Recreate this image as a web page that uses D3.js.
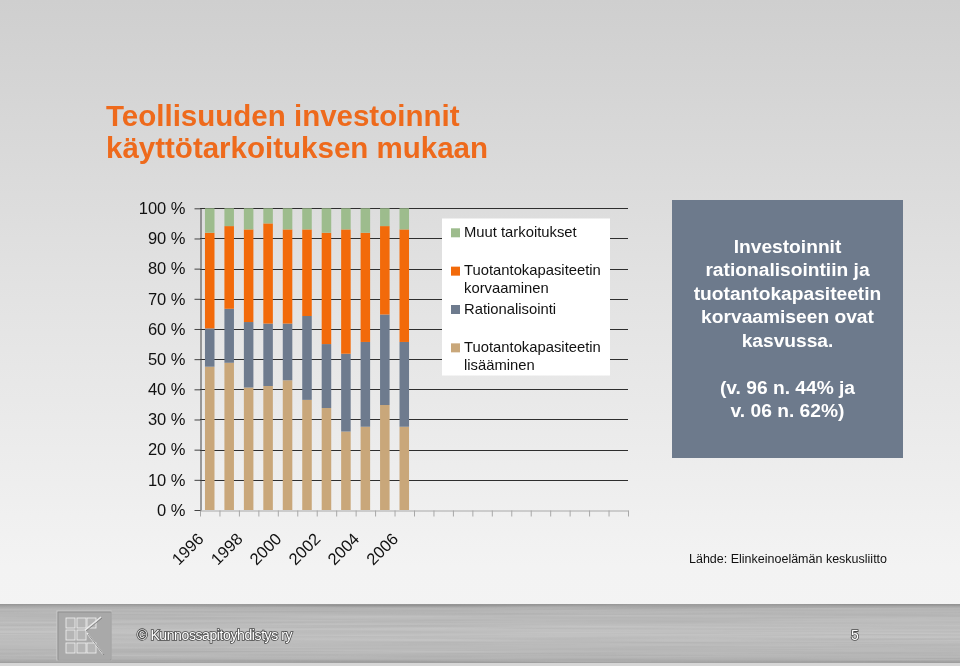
<!DOCTYPE html>
<html>
<head>
<meta charset="utf-8">
<script src="https://cdn.jsdelivr.net/npm/d3@7"></script>
<style>
html,body{margin:0;padding:0;overflow:hidden;background:#e8e8e8}
svg{display:block;font-family:"Liberation Sans",Arial,Helvetica,sans-serif}
</style>
</head>
<body>
<svg id="chart" width="960" height="666"></svg>
<script>
// ---------------- data ----------------
const years = [1996, 1997, 1998, 1999, 2000, 2001, 2002, 2003, 2004, 2005, 2006];
const slotCount = 22; // the category axis keeps room for 22 slots, only 11 are filled
const lisaaminen      = [47.5, 48.8, 40.6, 41.1, 43.0, 36.5, 33.8, 26.0, 27.6, 34.8, 27.6];
const rationalisointi = [12.7, 17.9, 21.7, 20.7, 18.8, 27.8, 21.2, 25.8, 28.1, 30.0, 28.1];
const korvaaminen     = [31.7, 27.4, 30.7, 33.2, 31.2, 28.7, 36.9, 41.2, 36.2, 29.3, 37.3];
const muut            = [ 8.1,  5.9,  7.0,  5.0,  7.0,  7.0,  8.1,  7.0,  8.1,  5.9,  7.0];
const seriesKeys   = ["lisaaminen", "rationalisointi", "korvaaminen", "muut"];
const seriesColors = ["#C9A77A", "#6E7B8E", "#F26A0A", "#9DBC8D"];
const yTicks = [0, 10, 20, 30, 40, 50, 60, 70, 80, 90, 100];
const xLabelYears = [1996, 1998, 2000, 2002, 2004, 2006];
const legendEntries = [
  {key: "muut", lines: ["Muut tarkoitukset"]},
  {key: "korvaaminen", lines: ["Tuotantokapasiteetin", "korvaaminen"]},
  {key: "rationalisointi", lines: ["Rationalisointi"]},
  {key: "lisaaminen", lines: ["Tuotantokapasiteetin", "lisääminen"]}
];
const titleLines = ["Teollisuuden investoinnit", "käyttötarkoituksen mukaan"];
const boxLines = ["Investoinnit", "rationalisointiin ja", "tuotantokapasiteetin",
                  "korvaamiseen ovat", "kasvussa.", "", "(v. 96 n. 44% ja", "v. 06 n. 62%)"];
const sourceText = "Lähde: Elinkeinoelämän keskusliitto";
const footerText = "© Kunnossapitoyhdistys ry";
const pageNumber = "5";

// ---------------- build ----------------
const rows = years.map((yr, i) => ({
  idx: i, year: yr,
  lisaaminen: lisaaminen[i], rationalisointi: rationalisointi[i],
  korvaaminen: korvaaminen[i], muut: muut[i]
}));
const colorOf = d3.scaleOrdinal().domain(seriesKeys).range(seriesColors);

const svg = d3.select("#chart");
const defs = svg.append("defs");

// background gradient
const bg = defs.append("linearGradient").attr("id", "bg").attr("x1", 0).attr("y1", 0).attr("x2", 0).attr("y2", 1);
bg.append("stop").attr("offset", "0%").attr("stop-color", "#cfcfcf");
bg.append("stop").attr("offset", "45%").attr("stop-color", "#e3e3e3");
bg.append("stop").attr("offset", "85%").attr("stop-color", "#f3f3f3");
bg.append("stop").attr("offset", "100%").attr("stop-color", "#f4f4f4");
svg.append("rect").attr("width", 960).attr("height", 666).attr("fill", "url(#bg)");

// footer metal band
const fg = defs.append("linearGradient").attr("id", "fg").attr("x1", 0).attr("y1", 0).attr("x2", 0).attr("y2", 1);
fg.append("stop").attr("offset", "0%").attr("stop-color", "#7d7d7d");
fg.append("stop").attr("offset", "8%").attr("stop-color", "#a6a6a6");
fg.append("stop").attr("offset", "50%").attr("stop-color", "#b4b4b4");
fg.append("stop").attr("offset", "92%").attr("stop-color", "#a6a6a6");
fg.append("stop").attr("offset", "100%").attr("stop-color", "#8c8c8c");
const flt = defs.append("filter").attr("id", "brush").attr("x", 0).attr("y", 0).attr("width", 1).attr("height", 1);
flt.append("feTurbulence").attr("type", "fractalNoise").attr("baseFrequency", "0.004 0.45")
   .attr("numOctaves", 2).attr("seed", 7).attr("result", "n");
flt.append("feColorMatrix").attr("type", "matrix")
   .attr("values", "0.33 0.33 0.33 0 0  0.33 0.33 0.33 0 0  0.33 0.33 0.33 0 0  0 0 0 0 1");

svg.append("rect").attr("x", 0).attr("y", 604).attr("width", 960).attr("height", 59).attr("fill", "url(#fg)");
svg.append("rect").attr("x", 0).attr("y", 604).attr("width", 960).attr("height", 59)
   .attr("filter", "url(#brush)").attr("opacity", 0.35).style("mix-blend-mode", "overlay");
svg.append("rect").attr("x", 0).attr("y", 663).attr("width", 960).attr("height", 3).attr("fill", "#d6d6d6");

// logo
const logo = svg.append("g").attr("transform", "translate(57,611)");
logo.append("rect").attr("width", 54).attr("height", 49).attr("fill", "#a9a9a9")
    .attr("stroke", "#c9c9c9").attr("stroke-width", 1.2);
logo.append("rect").attr("x", 1).attr("y", 1).attr("width", 53).attr("height", 48).attr("fill", "none")
    .attr("stroke", "#8a8a8a").attr("stroke-width", 0.8);
const cellsX = [9, 20, 30], cellsY = [7, 19, 32];
cellsY.forEach((cy, r) => cellsX.forEach((cx, c) => {
  if (r === 1 && c === 2) return;
  logo.append("rect").attr("x", cx).attr("y", cy).attr("width", 9).attr("height", 10)
      .attr("fill", "#b5b5b5").attr("stroke", "#ececec").attr("stroke-width", 0.9);
}));
logo.append("path").attr("d", "M28,19 L44,6 M30,22 L46,43").attr("stroke", "#ececec").attr("stroke-width", 1.4).attr("fill", "none");
logo.append("path").attr("d", "M29,20 L45,7 M31,23 L47,44").attr("stroke", "#7a7a7a").attr("stroke-width", 0.8).attr("fill", "none");

svg.append("text").attr("x", 137).attr("y", 640).text(footerText)
   .attr("font-size", 14).attr("fill", "#ffffff").attr("stroke", "#4a4a4a").attr("stroke-width", 1.6)
   .attr("paint-order", "stroke").attr("letter-spacing", -0.4);
svg.append("text").attr("x", 851).attr("y", 640).text(pageNumber)
   .attr("font-size", 14).attr("fill", "#ffffff").attr("stroke", "#4a4a4a").attr("stroke-width", 1.6)
   .attr("paint-order", "stroke");

// title
svg.append("g").selectAll("text").data(titleLines).join("text")
   .attr("x", 106).attr("y", (d, i) => 126 + i * 32)
   .attr("font-size", 29.5).attr("font-weight", "bold").attr("fill", "#EE6A1C").text(d => d);

// ---------------- chart ----------------
const x = d3.scaleBand().domain(d3.range(slotCount)).range([200, 628]).paddingInner(0.51).paddingOuter(0.255);
const xEdges = d3.scaleLinear().domain([0, slotCount]).range([200, 628]);
const y = d3.scaleLinear().domain([0, 100]).range([510, 208.3]);

// gridlines
svg.append("g").selectAll("line").data(yTicks.filter(t => t > 0)).join("line")
   .attr("x1", 200).attr("x2", 628).attr("y1", d => Math.round(y(d)) + 0.5).attr("y2", d => Math.round(y(d)) + 0.5)
   .attr("stroke", "#2e2e2e").attr("stroke-width", 1);

// bars
const stacked = d3.stack().keys(seriesKeys)(rows);
svg.append("g").selectAll("g").data(stacked).join("g")
   .attr("fill", d => colorOf(d.key))
   .selectAll("rect").data(d => d).join("rect")
   .attr("x", d => x(d.data.idx)).attr("width", x.bandwidth())
   .attr("y", d => y(d[1])).attr("height", d => y(d[0]) - y(d[1]));

// x axis
const xAxis = svg.append("g").attr("transform", "translate(0,510.5)")
   .call(d3.axisBottom(xEdges).tickValues(d3.range(slotCount + 1)).tickFormat("").tickSize(6).tickSizeOuter(0));
xAxis.select(".domain").attr("stroke", "#a8a8a8");
xAxis.selectAll(".tick line").attr("stroke", "#a8a8a8");

svg.append("g").selectAll("text").data(xLabelYears).join("text")
   .attr("transform", d => `translate(${x(years.indexOf(d)) + x.bandwidth() / 2 - 5},540) rotate(-45)`)
   .attr("text-anchor", "end").attr("font-size", 16.5).attr("fill", "#111").text(d => d);

// y axis
const yAxis = svg.append("g").attr("transform", "translate(200.5,0)")
   .call(d3.axisLeft(y).tickValues(yTicks).tickFormat(d => d + " %").tickSize(6).tickSizeOuter(0).tickPadding(9));
yAxis.select(".domain").attr("stroke", "#444");
yAxis.selectAll(".tick line").attr("stroke", "#444");
yAxis.selectAll(".tick text").attr("font-size", 16.5).attr("fill", "#111")
     .attr("font-family", "'Liberation Sans',Arial,sans-serif");

// legend
const lg = svg.append("g");
lg.append("rect").attr("x", 442).attr("y", 218.5).attr("width", 168).attr("height", 157).attr("fill", "#ffffff");
const li = lg.selectAll("g.item").data(legendEntries).join("g").attr("class", "item")
   .attr("transform", (d, i) => `translate(451,${228.3 + i * 38.35})`);
li.append("rect").attr("width", 9).attr("height", 9).attr("fill", d => colorOf(d.key));
li.selectAll("text").data(d => d.lines).join("text")
   .attr("x", 13).attr("y", (d, i) => 8.6 + i * 18).attr("font-size", 14.8).attr("fill", "#111").text(d => d);

// text box
svg.append("rect").attr("x", 672).attr("y", 200).attr("width", 231).attr("height", 258).attr("fill", "#6D7A8C");
svg.append("g").selectAll("text").data(boxLines).join("text")
   .attr("x", 787.5).attr("y", (d, i) => 252.5 + i * 23.5).attr("text-anchor", "middle")
   .attr("font-size", 19.2).attr("font-weight", "bold").attr("fill", "#ffffff").text(d => d);

// source
svg.append("text").attr("x", 689).attr("y", 563).attr("font-size", 12.5).attr("fill", "#111").text(sourceText);
</script>
</body>
</html>
